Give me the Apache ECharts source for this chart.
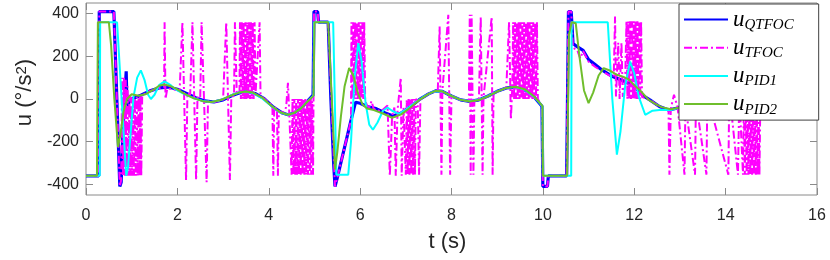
<!DOCTYPE html>
<html>
<head>
<meta charset="utf-8">
<script src="https://cdn.jsdelivr.net/npm/echarts@6/dist/echarts.min.js"></script>
<style>html,body{margin:0;padding:0;background:#fff;}#c{width:830px;height:260px;}</style>
</head>
<body>
<div id="c"></div>
<script>
// ---- data (t in s, u in deg/s^2) ----
const xTicks = [0, 2, 4, 6, 8, 10, 12, 14, 16];
const yTicks = [-400, -200, 0, 200, 400];
const seriesNames = ['QTFOC', 'TFOC', 'PID1', 'PID2'];

const qtfoc = [[0,-360],[0.28,-360],[0.29,410],[0.61,410],[0.74,-410],[0.77,-390],[0.8,-200],[0.84,-20],[0.88,130],[0.9,-60],[0.93,-20],[0.97,-5],[1.05,5],[1.2,18],[1.4,38],[1.6,52],[1.8,56],[2.0,46],[2.2,26],[2.4,6],[2.6,-9],[2.8,-14],[3.0,-4],[3.2,16],[3.4,32],[3.55,34],[3.7,26],[3.9,2],[4.1,-38],[4.3,-66],[4.42,-74],[4.55,-66],[4.7,-45],[4.85,-10],[4.97,18],[4.99,410],[5.07,410],[5.09,360],[5.3,360],[5.36,0],[5.42,-300],[5.45,-410],[5.5,-370],[5.6,-280],[5.7,-190],[5.8,-100],[5.9,-15],[6.0,-20],[6.15,-35],[6.35,-45],[6.55,-65],[6.72,-80],[6.9,-66],[7.1,-36],[7.3,-2],[7.5,24],[7.65,38],[7.8,36],[8.0,14],[8.2,-4],[8.4,-11],[8.6,-4],[8.8,14],[9.0,36],[9.2,52],[9.4,56],[9.6,44],[9.8,12],[9.98,-34],[10.0,-410],[10.1,-410],[10.12,-360],[10.52,-360],[10.56,410],[10.62,410],[10.66,260],[10.75,245],[10.88,228],[11.0,185],[11.15,160],[11.3,135],[11.5,108],[11.7,90],[11.9,72],[12.05,48],[12.2,15],[12.35,-5],[12.55,-35],[12.75,-52],[12.95,-42],[13.2,-20],[13.5,10],[13.8,30],[14.1,35],[14.4,15],[14.7,-10],[15,-20]];

const tfoc = [[0,-360],[0.28,-360],[0.29,410],[0.61,410],[0.74,-410],[0.77,-380],
[0.79,100],[0.81,-360],[0.83,100],[0.85,-360],[0.87,90],[0.89,-360],[0.91,60],[0.93,-360],[0.95,20],[0.97,-360],[0.99,10],[1.01,-360],[1.03,5],[1.05,-360],[1.07,5],[1.09,-360],[1.11,10],[1.13,-360],[1.15,10],[1.17,-360],[1.19,15],[1.21,-360],[1.23,18],
[1.4,38],[1.6,50],[1.71,55],[1.72,360],[1.74,0],[1.78,50],[1.9,45],[2.05,40],[2.11,360],[2.19,-380],[2.22,28],[2.28,20],[2.33,360],[2.41,-380],[2.44,8],[2.5,2],[2.53,360],[2.64,-390],[2.67,-10],[2.8,-14],[3.0,-4],[3.07,360],[3.15,-380],[3.18,5],[3.24,18],[3.26,360],[3.3,25],
[3.36,32],[3.37,360],[3.39,0],[3.41,360],[3.43,0],[3.45,360],[3.47,0],[3.49,360],[3.51,0],[3.53,360],[3.55,0],[3.57,360],[3.59,0],[3.61,360],[3.63,0],[3.65,360],[3.67,0],[3.69,360],[3.71,20],
[3.75,18],[3.8,360],[3.82,10],[3.9,2],[4.0,-18],[4.08,-30],[4.1,-360],[4.12,-35],[4.18,-50],[4.2,-360],[4.22,-55],[4.3,-66],[4.38,-40],[4.42,76],[4.45,-70],
[4.5,-355],[4.52,0],[4.54,-355],[4.56,0],[4.58,-355],[4.6,0],[4.62,-355],[4.64,0],[4.66,-355],[4.68,0],[4.7,-355],[4.72,0],[4.74,-355],[4.76,0],[4.78,-355],[4.8,0],[4.82,-355],[4.84,0],[4.86,-355],[4.88,0],[4.9,-355],[4.92,0],[4.93,-355],
[4.95,-10],[4.97,-355],[4.98,18],[4.99,410],[5.07,410],[5.09,360],[5.3,360],[5.45,-410],[5.5,-370],[5.6,-280],[5.7,-190],[5.8,-100],
[5.81,360],[5.83,0],[5.85,360],[5.87,0],[5.89,360],[5.91,0],[5.93,360],[5.95,0],[5.97,360],[5.99,0],[6.01,360],[6.03,0],[6.05,360],[6.07,0],[6.09,360],[6.11,-5],
[6.15,-30],[6.2,-40],[6.25,-10],[6.3,-50],[6.35,-45],[6.45,-60],[6.6,-30],[6.65,-360],[6.7,-80],[6.75,-40],[6.78,-360],[6.82,-50],[6.89,100],[6.91,-360],[6.95,-40],
[7.0,-355],[7.02,0],[7.04,-355],[7.06,0],[7.08,-355],[7.1,0],[7.12,-355],[7.14,0],[7.16,-355],[7.18,0],[7.2,-355],[7.22,0],
[7.26,-10],[7.29,-355],[7.32,0],[7.5,24],[7.7,38],[7.74,340],[7.78,-355],[7.8,36],[7.93,395],[7.97,-355],[8.0,14],[8.2,-4],[8.38,-10],[8.4,395],[8.42,-355],[8.44,395],[8.48,-355],[8.5,-8],[8.6,-4],[8.64,385],[8.68,-355],[8.7,5],[8.88,385],[8.9,-355],[8.92,20],[9.0,36],[9.2,52],[9.26,360],[9.3,-97],[9.33,55],
[9.35,360],[9.37,0],[9.39,360],[9.41,0],[9.43,360],[9.45,0],[9.47,360],[9.49,0],[9.51,360],[9.53,0],[9.55,360],[9.57,0],[9.59,360],[9.61,0],[9.63,360],[9.65,0],[9.67,360],[9.69,0],[9.71,360],[9.73,0],[9.75,360],[9.77,0],[9.79,360],[9.81,0],[9.83,360],[9.85,0],[9.87,360],[9.89,0],
[9.92,5],[9.98,-34],[10.0,-410],[10.1,-410],[10.12,-360],[10.52,-360],[10.56,410],[10.62,410],[10.66,240],[10.75,230],[10.82,190],[10.88,225],[11.0,175],[11.15,150],[11.3,130],[11.5,105],[11.55,100],[11.58,387],[11.6,12],[11.65,264],[11.68,0],[11.72,264],[11.75,10],[11.8,80],
[11.83,364],[11.85,0],[11.87,364],[11.89,0],[11.91,364],[11.93,0],[11.95,364],[11.97,0],[11.99,364],[12.01,0],[12.03,364],[12.05,0],[12.07,364],[12.09,0],[12.11,364],[12.13,0],[12.15,364],[12.17,10],
[12.2,15],[12.35,-5],[12.55,-35],[12.75,-50],[12.77,-355],[12.8,-45],[12.87,20],[12.95,-40],[13.1,-355],[13.12,-30],[13.33,-355],[13.35,-10],[13.58,-355],[13.6,15],[14.06,-355],[14.08,35],[14.27,-355],[14.3,20],
[14.38,-355],[14.4,0],[14.42,-355],[14.44,0],[14.46,-355],[14.48,0],[14.5,-355],[14.52,0],[14.54,-355],[14.56,0],[14.58,-355],[14.6,0],[14.62,-355],[14.64,0],[14.66,-355],[14.68,0],[14.7,-355],[14.72,0],[14.74,-355],[14.76,-10],[15,-20]];

const pid1 = [[0,-360],[0.3,-360],[0.31,360],[0.68,360],[0.88,-360],[0.92,-320],[0.98,-150],[1.04,10],[1.12,100],[1.2,134],[1.28,90],[1.36,20],[1.42,0],[1.5,20],[1.6,65],[1.72,83],[1.85,65],[1.96,45],[2.13,25],[2.35,5],[2.55,-9],[2.75,-14],[2.95,-5],[3.15,15],[3.35,31],[3.5,34],[3.65,28],[3.85,4],[4.05,-32],[4.25,-63],[4.42,-74],[4.55,-66],[4.7,-45],[4.85,-10],[4.98,17],[4.99,360],[5.41,360],[5.48,-355],[5.74,-355],[5.8,-200],[5.88,100],[5.96,262],[6.03,180],[6.12,-20],[6.2,-120],[6.28,-144],[6.38,-110],[6.5,-55],[6.6,-40],[6.7,-55],[6.85,-70],[7.0,-50],[7.2,-18],[7.4,12],[7.6,35],[7.8,36],[8.0,14],[8.2,-4],[8.4,-11],[8.6,-4],[8.8,14],[9.0,36],[9.2,52],[9.4,56],[9.6,44],[9.8,12],[9.99,-34],[10.0,-360],[10.62,-360],[10.63,360],[11.42,360],[11.52,0],[11.62,-261],[11.7,-150],[11.8,60],[11.91,176],[12.0,120],[12.1,10],[12.24,-74],[12.4,-55],[12.6,-50],[12.8,-52],[13.0,-40],[13.2,-20],[13.5,10],[13.8,30],[14.1,35],[14.4,15],[14.7,-10],[15,-20]];

const pid2 = [[0,-360],[0.24,-360],[0.26,360],[0.5,360],[0.55,250],[0.62,0],[0.7,-225],[0.75,-170],[0.82,-60],[0.9,0],[1.0,22],[1.15,15],[1.3,22],[1.45,40],[1.6,62],[1.72,68],[1.85,60],[2.0,45],[2.15,25],[2.35,4],[2.55,-10],[2.75,-14],[2.95,-5],[3.15,14],[3.35,30],[3.5,35],[3.65,30],[3.85,8],[4.05,-30],[4.25,-62],[4.42,-74],[4.55,-66],[4.7,-45],[4.85,-12],[4.98,16],[5.0,360],[5.3,360],[5.38,0],[5.45,-330],[5.5,-250],[5.58,-80],[5.66,60],[5.76,145],[5.85,110],[5.95,30],[6.05,-25],[6.15,-45],[6.3,-52],[6.5,-68],[6.7,-88],[6.9,-72],[7.1,-40],[7.3,-4],[7.5,24],[7.65,38],[7.8,36],[8.0,14],[8.2,-4],[8.4,-12],[8.6,-5],[8.8,13],[9.0,35],[9.2,52],[9.4,57],[9.6,46],[9.8,14],[9.99,-32],[10.0,-360],[10.53,-360],[10.57,300],[10.63,360],[10.72,355],[10.8,200],[10.9,40],[11.0,-19],[11.1,30],[11.22,110],[11.33,145],[11.45,135],[11.6,115],[11.75,105],[11.87,93],[12.0,65],[12.15,35],[12.31,-3],[12.45,-22],[12.6,-38],[12.8,-48],[13.0,-40],[13.2,-20],[13.5,10],[13.8,30],[14.1,35],[14.4,15],[14.7,-10],[15,-20]];

// ---- chart ----
const frame = '#8a8a8a';
const txt = '#262626';
const sans = 'Liberation Sans, Arial, sans-serif';
const serif = 'Liberation Serif, Times New Roman, serif';
const chart = echarts.init(document.getElementById('c'), null, {renderer: 'canvas'});
const tickCommon = {show: true, inside: true, length: 7, lineStyle: {color: frame, width: 1}};
const noLine = {show: false, onZero: false};
chart.setOption({
  animation: false,
  backgroundColor: '#fff',
  grid: {left: 86, right: 13, top: 3, bottom: 65, show: true, borderColor: frame, borderWidth: 1, backgroundColor: 'transparent'},
  xAxis: [
    {type: 'value', min: 0, max: 16, interval: 2, position: 'bottom',
     axisLine: noLine, splitLine: {show: false},
     axisTick: tickCommon,
     axisLabel: {margin: 13, fontSize: 16, fontFamily: sans, color: txt},
     name: 't (s)', nameLocation: 'middle', nameGap: 36,
     nameTextStyle: {fontSize: 22, fontFamily: sans, color: txt, padding: [0, 8, 0, 0]}},
    {type: 'value', min: 0, max: 16, interval: 2, position: 'top',
     axisLine: noLine, splitLine: {show: false},
     axisTick: tickCommon, axisLabel: {show: false}}
  ],
  yAxis: [
    {type: 'value', min: -450, max: 450, position: 'left',
     axisLine: noLine, splitLine: {show: false},
     axisTick: Object.assign({customValues: yTicks}, tickCommon),
     axisLabel: {customValues: yTicks, margin: 7, fontSize: 16, fontFamily: sans, color: txt},
     name: 'u (°/s{sup|2})', nameLocation: 'middle', nameGap: 46,
     nameTextStyle: {fontSize: 22, fontFamily: sans, color: txt, padding: [0, 0, 0, 13],
       rich: {sup: {fontSize: 15, fontFamily: sans, color: txt, verticalAlign: 'top', lineHeight: 14}}}},
    {type: 'value', min: -450, max: 450, position: 'right',
     axisLine: noLine, splitLine: {show: false},
     axisTick: Object.assign({customValues: yTicks}, tickCommon),
     axisLabel: {show: false, customValues: yTicks}}
  ],
  legend: {
    orient: 'vertical', left: 679, top: 4,
    padding: [4, 25, 3, 4], itemGap: 3.7, itemWidth: 44, itemHeight: 12,
    backgroundColor: '#fff', borderColor: '#404040', borderWidth: 1, borderRadius: 0,
    itemStyle: {opacity: 0},
    data: seriesNames,
    formatter: function (n) { return '{u|u}{s|' + n + '}'; },
    textStyle: {
      rich: {
        u: {fontFamily: serif, fontStyle: 'italic', fontSize: 23, lineHeight: 26, color: '#000', verticalAlign: 'middle'},
        s: {fontFamily: serif, fontStyle: 'italic', fontSize: 15, lineHeight: 12, color: '#000', verticalAlign: 'bottom'}
      }
    }
  },
  series: [
    {name: 'QTFOC', type: 'line', data: qtfoc, showSymbol: false, symbol: 'none',
     lineStyle: {color: '#0000ff', width: 3.2}, itemStyle: {color: '#0000ff'}, clip: true},
    {name: 'TFOC', type: 'line', data: tfoc, showSymbol: false, symbol: 'none',
     lineStyle: {color: '#ff00ff', width: 2, type: [8, 3, 2, 3]}, itemStyle: {color: '#ff00ff'}, clip: true},
    {name: 'PID1', type: 'line', data: pid1, showSymbol: false, symbol: 'none',
     lineStyle: {color: '#00ffff', width: 2}, itemStyle: {color: '#00ffff'}, clip: true},
    {name: 'PID2', type: 'line', data: pid2, showSymbol: false, symbol: 'none',
     lineStyle: {color: '#6fbe2c', width: 2}, itemStyle: {color: '#6fbe2c'}, clip: true}
  ]
});
</script>
</body>
</html>
